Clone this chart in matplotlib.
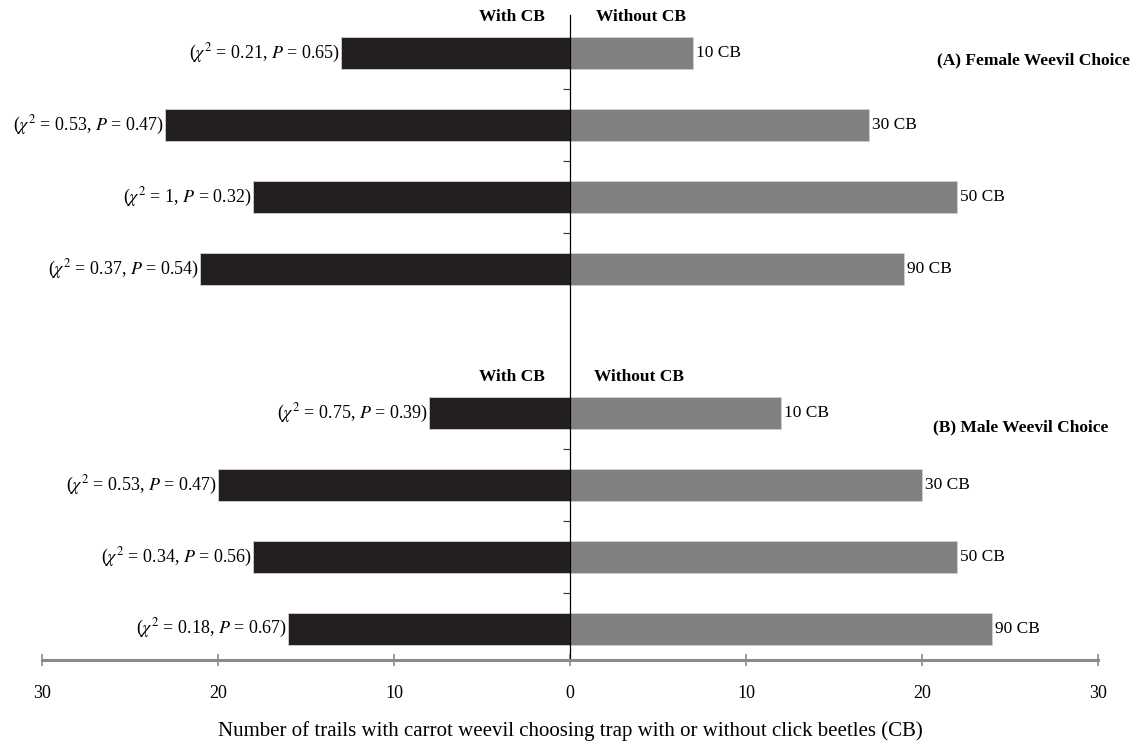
import matplotlib
matplotlib.use('Agg')
from matplotlib import pyplot as plt
import numpy as np

plt.rcParams['font.family'] = ['Liberation Serif', 'DejaVu Serif']
plt.rcParams['mathtext.fontset'] = 'stix'

# data
doses = ['10 CB', '30 CB', '50 CB', '90 CB']
female_with = [13, 23, 18, 21]
female_without = [7, 17, 22, 19]
female_chi = ['0.21', '0.53', '1', '0.37']
female_p = ['0.65', '0.47', '0.32', '0.54']
male_with = [8, 20, 18, 16]
male_without = [12, 20, 22, 24]
male_chi = ['0.75', '0.53', '0.34', '0.18']
male_p = ['0.39', '0.47', '0.56', '0.67']
x_ticks = [-30, -20, -10, 0, 10, 20, 30]

dark = '#231f20'
grey = '#808080'

fig = plt.figure(figsize=(11.42, 7.49), dpi=100)
ax = fig.add_axes([0.0368, 0.119, 0.9247, 0.861])

female_y = np.arange(4)
male_y = np.arange(4) + 5
bar_h = 0.44


def draw_group(ypos, with_vals, without_vals, chis, ps):
    ax.barh(ypos, [-v for v in with_vals], height=bar_h, color=dark, edgecolor='#d0d0d0', linewidth=0.6)
    ax.barh(ypos, without_vals, height=bar_h, color=grey, edgecolor='#d0d0d0', linewidth=0.6)
    for i in range(len(ypos)):
        ax.annotate('($\\chi^2$ = %s, $P$ = %s)' % (chis[i], ps[i]), xy=(-with_vals[i], ypos[i]),
                    xytext=(-1, 0), textcoords='offset points', ha='right', va='center', fontsize=13)
        ax.annotate(doses[i], xy=(without_vals[i], ypos[i]), xytext=(2, 0),
                    textcoords='offset points', ha='left', va='center', fontsize=12.5)


draw_group(female_y, female_with, female_without, female_chi, female_p)
draw_group(male_y, male_with, male_without, male_chi, male_p)

# header labels
ax.text(-1.44, -0.5, 'With CB', ha='right', va='center', fontsize=12.5, fontweight='bold')
ax.text(1.45, -0.5, 'Without CB', ha='left', va='center', fontsize=12.5, fontweight='bold')
ax.text(-1.44, 4.5, 'With CB', ha='right', va='center', fontsize=12.5, fontweight='bold')
ax.text(1.37, 4.5, 'Without CB', ha='left', va='center', fontsize=12.5, fontweight='bold')
ax.text(31.8, 0.1, '(A) Female Weevil Choice', ha='right', va='center', fontsize=12.5,
        fontweight='bold', clip_on=False)
ax.text(30.6, 5.2, '(B) Male Weevil Choice', ha='right', va='center', fontsize=12.5,
        fontweight='bold', clip_on=False)

ax.set_xlim(-30, 30)
ax.set_ylim(8.43, -0.53)

# axes styling
ax.spines['top'].set_visible(False)
ax.spines['right'].set_visible(False)
ax.spines['left'].set_position(('data', 0))
ax.spines['left'].set_linewidth(0.9)
ax.spines['left'].set_color('black')
ax.spines['bottom'].set_linewidth(2.2)
ax.spines['bottom'].set_color('#8a8a8a')

ax.set_yticks([0.5, 1.5, 2.5, 5.5, 6.5, 7.5])
ax.set_yticklabels([])
ax.tick_params(axis='y', direction='out', length=5, width=0.8, color='#333333')

ax.set_xticks(x_ticks)
ax.set_xticklabels([str(abs(t)) for t in x_ticks], fontsize=13)
ax.tick_params(axis='x', direction='inout', length=8, width=1.2, color='#8a8a8a', pad=14)
ax.set_xlabel('Number of trails with carrot weevil choosing trap with or without click beetles (CB)',
              fontsize=15, labelpad=14)

fig.savefig('out.png', dpi=100)
